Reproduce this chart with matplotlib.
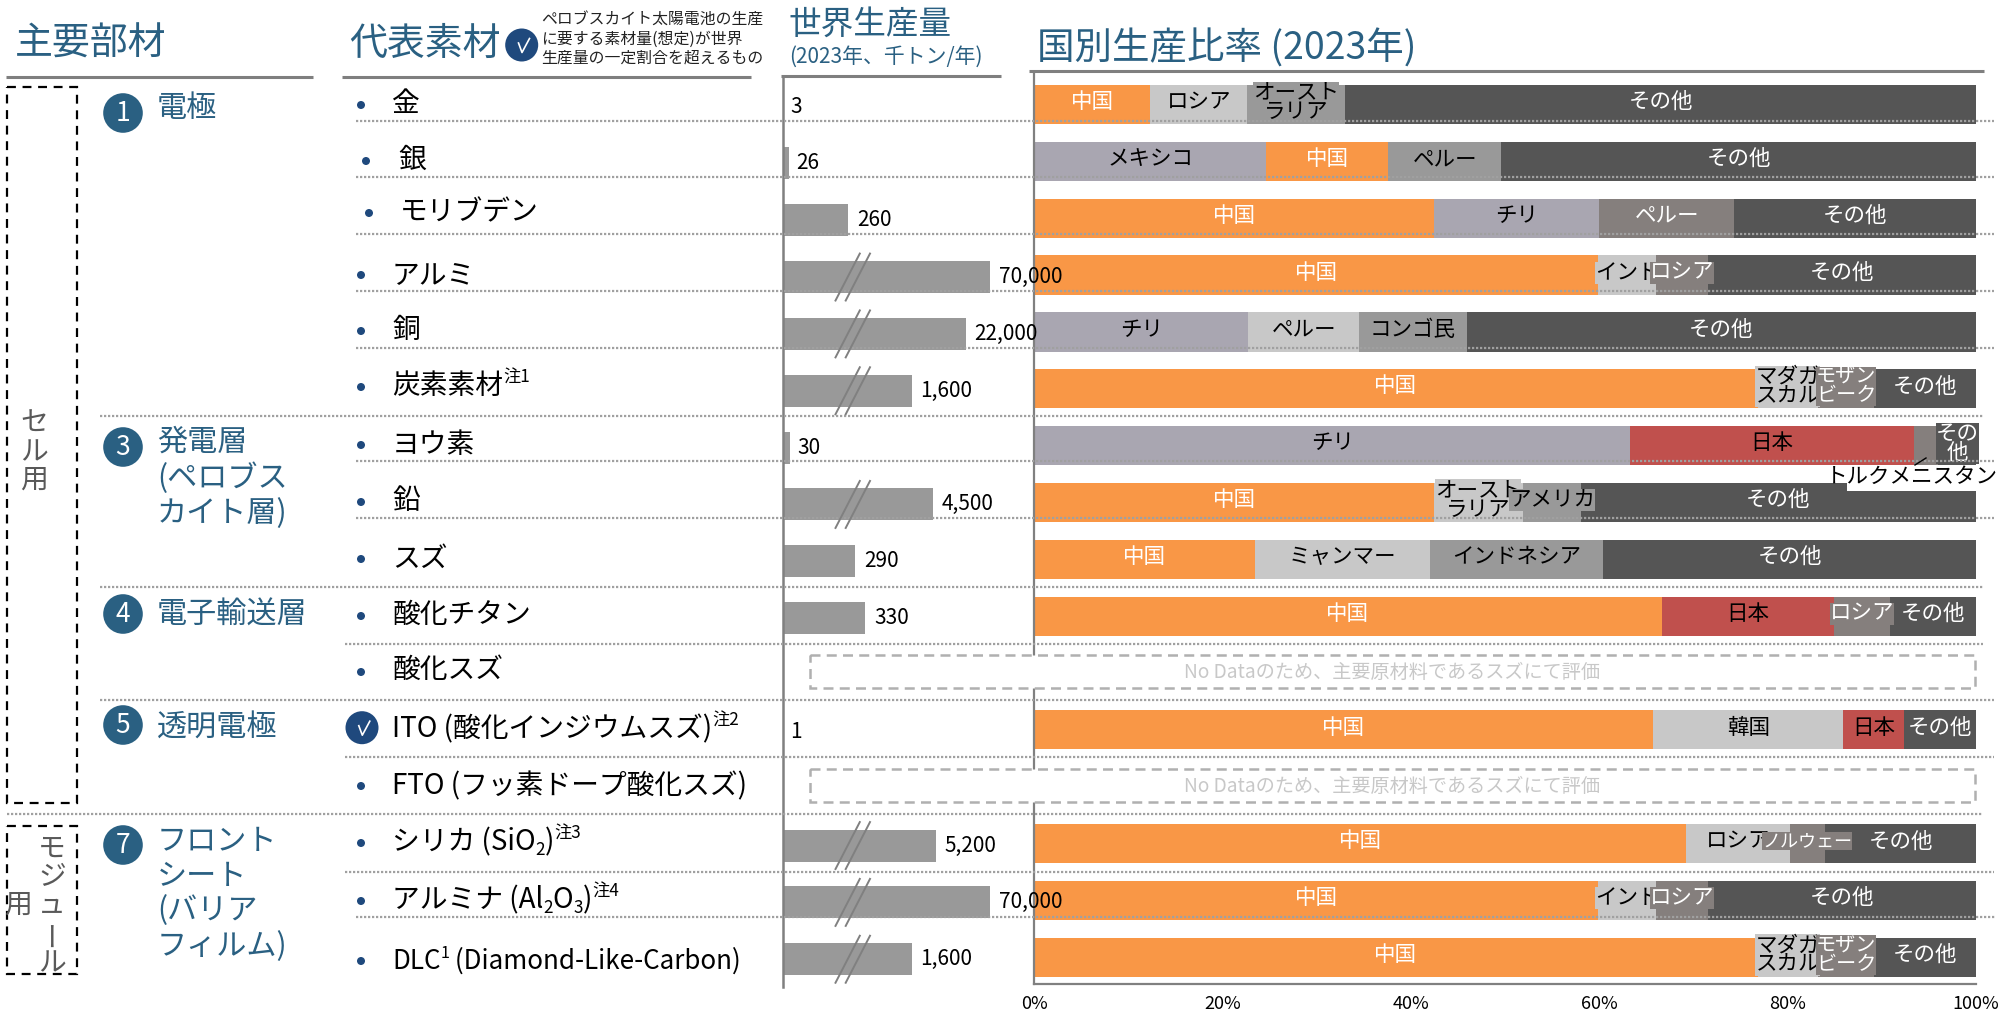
import numpy as np
import matplotlib
matplotlib.use('Agg')
import matplotlib.pyplot as plt
from matplotlib.patches import Circle, Rectangle

plt.rcParams['font.family'] = ['Noto Sans CJK JP', 'DejaVu Sans']

# world production, thousand tons per year (None = no data)
production = [3, 26, 260, 70000, 22000, 1600, 30, 4500, 290, 330, None, 1, None, 5200, 70000, 1600]
production_labels = ['3', '26', '260', '70,000', '22,000', '1,600', '30', '4,500', '290', '330', '', '1', '', '5,200', '70,000', '1,600']
broken_rows = [3, 4, 5, 7, 13, 14, 15]

# country shares per row
share_names = [
    ['中国', 'ロシア', 'オースト\nラリア', 'その他'],
    ['メキシコ', '中国', 'ペルー', 'その他'],
    ['中国', 'チリ', 'ペルー', 'その他'],
    ['中国', 'インド', 'ロシア', 'その他'],
    ['チリ', 'ペルー', 'コンゴ民', 'その他'],
    ['中国', 'マダガ\nスカル', 'モザン\nビーク', 'その他'],
    ['チリ', '日本', '', 'その\n他'],
    ['中国', 'オースト\nラリア', 'アメリカ', 'その他'],
    ['中国', 'ミャンマー', 'インドネシア', 'その他'],
    ['中国', '日本', 'ロシア', 'その他'],
    [],
    ['中国', '韓国', '日本', 'その他'],
    [],
    ['中国', 'ロシア', 'ノルウェー', 'その他'],
    ['中国', 'インド', 'ロシア', 'その他'],
    ['中国', 'マダガ\nスカル', 'モザン\nビーク', 'その他'],
]
share_values = [
    [12.3, 10.3, 10.4, 67.0],
    [24.6, 13.0, 12.0, 50.4],
    [42.4, 17.6, 14.3, 25.7],
    [59.9, 6.1, 5.5, 28.5],
    [22.7, 11.8, 11.4, 54.1],
    [76.8, 6.4, 6.0, 10.8],
    [63.3, 30.1, 2.6, 4.0],
    [42.4, 9.5, 6.1, 42.0],
    [23.4, 18.6, 18.4, 39.6],
    [66.6, 18.3, 6.0, 9.1],
    [],
    [65.7, 20.2, 6.5, 7.6],
    [],
    [69.2, 11.0, 3.8, 16.0],
    [59.9, 6.1, 5.5, 28.5],
    [76.8, 6.4, 6.0, 10.8],
]
share_kinds = [
    'olmd', 'pomd', 'opkd', 'olkd', 'plmd', 'olkd', 'prkd', 'olmd',
    'olmd', 'orkd', '', 'olrd', '', 'olkd', 'olkd', 'olkd',
]
kind_color = {'o': '#F99746', 'l': '#C8C8C8', 'm': '#999999', 'd': '#555555',
              'p': '#A9A6B1', 'k': '#857F7D', 'r': '#C0504D'}
kind_text = {'o': 'white', 'l': 'black', 'm': 'black', 'd': 'white',
             'p': 'black', 'k': 'white', 'r': 'black'}
label_size = {'ノルウェー': 13, 'モザン\nビーク': 14.5}

materials = [
    ['金'], ['銀'], ['モリブデン'], ['アルミ'], ['銅'], ['炭素素材', '^注1'], ['ヨウ素'], ['鉛'],
    ['スズ'], ['酸化チタン'], ['酸化スズ'], ['ITO (酸化インジウムスズ)', '^注2'],
    ['FTO (フッ素ドープ酸化スズ)'], ['シリカ (SiO', '_2', ')', '^注3'],
    ['アルミナ (Al', '_2', 'O', '_3', ')', '^注4'], ['DLC', '^1', ' (Diamond-Like-Carbon)'],
]
material_x = [392, 398, 400, 392, 392, 392, 392, 392, 392, 392, 392, 392, 392, 392, 392, 392]
material_y = [104, 160, 212, 275, 330, 386, 445, 501, 559, 615, 670, 729, 786, 842, 900, 961]
material_size = [20, 20, 20, 20, 20, 20, 20, 20, 20, 20, 20, 20, 20, 20, 20, 18.7]
bullet_x = [361, 366, 369, 361, 361, 361, 361, 361, 361, 361, 361, None, 361, 361, 361, 361]
bullet_y = [105, 161, 213, 275, 331, 387, 445, 502, 559, 616, 672, None, 786, 843, 901, 961]

groups = [('1', 113, ['電極'], [108]),
          ('3', 447, ['発電層', '(ペロブス', 'カイト層)'], [442, 478, 514]),
          ('4', 614, ['電子輸送層'], [615]),
          ('5', 725, ['透明電極'], [728]),
          ('7', 845, ['フロント', 'シート', '(バリア', 'フィルム)'], [841, 876, 911, 947])]

# dotted separators: y, x start, x end
separators = [(120.7, 356, 1994), (177, 356, 1994), (234, 356, 1994), (290.7, 356, 1994),
              (347.7, 356, 1994), (416.3, 100, 1983), (460.7, 356, 1994), (517.7, 356, 1994),
              (586.7, 100, 1983), (643.7, 345, 1983), (700.3, 100, 1994), (756.7, 345, 1994),
              (814.3, 7, 1983), (871.7, 345, 1994), (917, 356, 1995)]

W, H = 2000, 1013
TITLE = '#2A6082'
AXIS = '#808080'


def px_axes(left, top, right, bottom, z):
    ax = fig.add_axes([left / W, 1 - bottom / H, (right - left) / W, (bottom - top) / H])
    ax.set_zorder(z)
    ax.patch.set_alpha(0)
    return ax


def forward(v):
    v = np.maximum(np.asarray(v, dtype=float), 1e-6)
    return np.where(v <= 400, 0.25 * v, 100 + 47.5 * np.log10(v / 400))


def inverse(f):
    f = np.asarray(f, dtype=float)
    return np.where(f <= 100, f / 0.25, 400 * 10 ** ((f - 100) / 47.5))


fig = plt.figure(figsize=(W / 100, H / 100), dpi=100)

# country share chart
ROW0, PITCH = 104.5, 56.85
ax = px_axes(1034.4, 73, 1976, 984, 1)
ax.set_xlim(0, 100)
ax.set_ylim((984 - ROW0) / PITCH, (73 - ROW0) / PITCH)
for row, vals in enumerate(share_values):
    left = 0
    for val, name, kind in zip(vals, share_names[row], share_kinds[row]):
        ax.barh(row, val, left=left, height=0.69, color=kind_color[kind], zorder=2)
        left += val
for row, vals in enumerate(share_values):
    left = 0
    for val, name, kind in zip(vals, share_names[row], share_kinds[row]):
        if name:
            ax.text(left + val / 2, row - 0.04, name, ha='center', va='center',
                    fontsize=label_size.get(name, 15.5),
                    color=kind_text[kind], linespacing=0.85, zorder=3,
                    bbox=dict(facecolor=kind_color[kind], edgecolor='none', pad=0))
        left += val
ax.set_xticks([0, 20, 40, 60, 80, 100])
ax.set_xticklabels(['0%', '20%', '40%', '60%', '80%', '100%'], fontsize=13)
ax.set_yticks([])
ax.tick_params(axis='x', length=0, pad=8)
for side in ['top', 'right']:
    ax.spines[side].set_visible(False)
for side in ['left', 'bottom']:
    ax.spines[side].set_color(AXIS)
    ax.spines[side].set_linewidth(1.6)

# world production chart, broken axis above 400
ROW0_B = 106.5
top_lim = 1e5
bx = px_axes(783, 78, 783 + float(forward(top_lim)), 986.7, 2)
bx.set_xscale('function', functions=(forward, inverse))
bx.set_xlim(0, top_lim)
bx.set_ylim((986.7 - ROW0_B) / PITCH, (78 - ROW0_B) / PITCH)
for row, value in enumerate(production):
    if value is None:
        continue
    bx.barh(row, value, height=0.563, color='#999999')
    bx.annotate(production_labels[row], (value, row), xytext=(7 if value < 100 else 9, 0),
                textcoords='offset pixels', va='center', fontsize=15, color='black',
                annotation_clip=False)
bx.set_xticks([])
bx.set_yticks([])
bx.minorticks_off()
for side in ['top', 'right', 'bottom']:
    bx.spines[side].set_visible(False)
bx.spines['left'].set_color(AXIS)
bx.spines['left'].set_linewidth(1.8)

# everything else in picture pixels
ov = px_axes(0, 0, W, H, 3)
ov.set_xlim(0, W)
ov.set_ylim(H, 0)
ov.axis('off')


def rich(x, y, parts, size, color='black'):
    renderer = fig.canvas.get_renderer()
    for part in parts:
        dy, fs, s = 0, size, part
        if part[0] == '^':
            dy, fs, s = -8, size * 0.62, part[1:]
        elif part[0] == '_':
            dy, fs, s = 8, size * 0.62, part[1:]
        t = ov.text(x, y + dy, s, fontsize=fs, color=color, va='center', ha='left')
        x = t.get_window_extent(renderer).x1


def check_circle(x, y):
    ov.add_patch(Circle((x, y), 16.5, color='#1F497D', lw=0))
    ov.plot([x - 3.2, x + 0.3, x + 7.8], [y - 2, y + 7.5, y - 6.5], color='white', lw=1.2)


for y, x0, x1 in separators:
    ov.plot([x0, x1], [y, y], color='#A0A0A0', lw=1.6, ls=(0, (1, 0.8)))

for x0, x1, y in [(6, 312.5, 76.5), (342, 751, 76.5), (781, 1001, 75.5), (1029, 1984, 70.5)]:
    ov.plot([x0, x1], [y, y], color='#7F7F7F', lw=2.2, solid_capstyle='butt')

ov.text(15, 44, '主要部材', fontsize=27.3, color=TITLE, va='center')
ov.text(349, 44, '代表素材', fontsize=27.3, color=TITLE, va='center')
ov.text(788, 25, '世界生産量', fontsize=23.5, color=TITLE, va='center')
ov.text(789, 57, '(2023年、千トン/年)', fontsize=15, color=TITLE, va='center')
ov.text(1037, 49, '国別生産比率 (2023年)', fontsize=27, color=TITLE, va='center')
for y, s in zip([20, 39, 58], ['ペロブスカイト太陽電池の生産', 'に要する素材量(想定)が世界', '生産量の一定割合を超えるもの']):
    ov.text(541, y, s, fontsize=11.4, color='#222222', va='center')
check_circle(521.7, 45)
check_circle(362, 727.7)

# part groups
for num, cy, lines, ys in groups:
    ov.add_patch(Circle((123, cy), 19.8, color=TITLE, lw=0))
    ov.text(123, cy, num, color='white', fontsize=19, ha='center', va='center')
    for s, y in zip(lines, ys):
        ov.text(157, y, s, fontsize=21.7, color=TITLE, va='center')

# materials
for parts, x, y, size in zip(materials, material_x, material_y, material_size):
    rich(x, y, parts, size)
for x, y in zip(bullet_x, bullet_y):
    if x is not None:
        ov.add_patch(Circle((x, y), 4, color='#1F497D', lw=0))

# cell / module boxes
for top, bottom in [(87, 803), (826, 974)]:
    ov.add_patch(Rectangle((7, top), 69.5, bottom - top, fill=False, ec='black', lw=1.6, ls=(0, (4, 3))))
for s, y in zip('セル用', [423, 452, 480]):
    ov.text(34, y, s, fontsize=20, color='#595959', ha='center', va='center')
for s, y in zip('モジュ', [849, 877, 905]):
    ov.text(52, y, s, fontsize=20, color='#595959', ha='center', va='center')
ov.text(52, 933, 'ー', fontsize=20, color='#595959', ha='center', va='center', rotation=90)
ov.text(52, 963, 'ル', fontsize=20, color='#595959', ha='center', va='center')
ov.text(18, 905, '用', fontsize=20, color='#595959', ha='center', va='center')

# axis break marks
for row in broken_rows:
    yc = ROW0_B + PITCH * row
    for dx in [0, 10.2]:
        ov.plot([835.5 + dx, 859.8 + dx], [yc + 23.5, yc - 23.5], color='#808080', lw=1.4)

# no data boxes
for top, bottom in [(655, 688), (769, 802)]:
    ov.add_patch(Rectangle((810, top), 1164.5, bottom - top, fc='white', ec='#B0B0B0', lw=1.8,
                           ls=(0, (4, 2.5)), zorder=3))
    ov.text(1392, (top + bottom) / 2 + 1, 'No Dataのため、主要原材料であるスズにて評価', fontsize=13.8,
            color='#C8C8C8', ha='center', va='center', zorder=4)

# outside label with its leader
ov.add_patch(Rectangle((1847, 466), 129, 25, fc='white', ec='none', zorder=3))
ov.text(1912, 476.7, 'トルクメニスタン', fontsize=15.5, color='black', ha='center', va='center', zorder=4)
ov.plot([1926, 1915], [458, 465], color='black', lw=1, zorder=4)

fig.savefig('out.png', dpi=100)
